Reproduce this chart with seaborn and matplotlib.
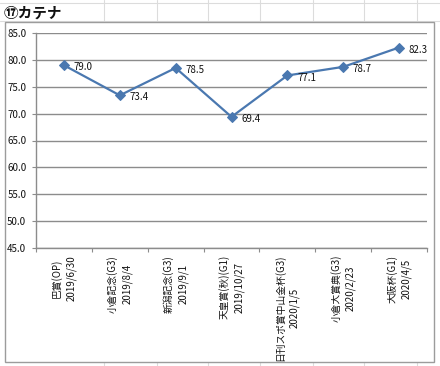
import matplotlib
matplotlib.use("Agg")
import matplotlib.pyplot as plt
import seaborn as sns
import pandas as pd
from matplotlib.patches import Rectangle
from matplotlib.lines import Line2D
from matplotlib.ticker import FixedLocator, NullFormatter

races = ["巴賞(OP)", "小倉記念(G3)", "新潟記念(G3)", "天皇賞(秋)(G1)",
         "日刊スポ賞中山金杯(G3)", "小倉大賞典(G3)", "大阪杯(G1)"]
dates = ["2019/6/30", "2019/8/4", "2019/9/1", "2019/10/27",
         "2020/1/5", "2020/2/23", "2020/4/5"]
scores = [79.0, 73.4, 78.5, 69.4, 77.1, 78.7, 82.3]
title = "⑰カテナ"

sns.set_theme(style="white")
plt.rcParams['font.family'] = ['Noto Sans CJK JP', 'DejaVu Sans']

W, H = 440, 366
fig = plt.figure(figsize=(W / 100, H / 100), dpi=100)
fig.patch.set_facecolor("white")

# spreadsheet background grid
for xv in [104, 157, 208, 260, 313, 364, 417]:
    fig.add_artist(Line2D([xv / W, xv / W], [0, 1], color="#dcdcdc", lw=0.8, zorder=-3))
for yv in [3, 21]:
    fig.add_artist(Line2D([0, 1], [1 - yv / H, 1 - yv / H], color="#dcdcdc", lw=0.8, zorder=-3))

# chart area
fig.add_artist(Rectangle((5 / W, (H - 362) / H), 429 / W, 340 / H,
                         transform=fig.transFigure, facecolor="white",
                         edgecolor="#9c9c9c", lw=1.0, zorder=-1))

fig.text(4 / W, 1 - 12.5 / H, title, ha="left", va="center", fontsize=10.5,
         fontweight="bold", color="#111111")

ax = fig.add_axes([36 / W, (H - 248) / H, (427 - 36) / W, (248 - 33) / H])
ax.set_facecolor("white")

labels = [f"{r}\n{d}" for r, d in zip(races, dates)]
df = pd.DataFrame({"label": labels, "score": scores, "pos": range(len(scores))})

line_color = "#4a78b0"
sns.lineplot(data=df, x="pos", y="score", ax=ax, sort=False, color=line_color,
             lw=1.6, marker="D", markersize=5, markeredgecolor=line_color, zorder=3)

for xi, v in zip(df["pos"], df["score"]):
    ax.annotate(f"{v:.1f}", (xi, v), xytext=(7, -1.5), textcoords="offset points",
                ha="left", va="center", fontsize=7, color="#111111")

ax.set_xlim(-0.5, len(scores) - 0.5)
ax.set_ylim(45, 85)
ax.set_yticks([45, 50, 55, 60, 65, 70, 75, 80, 85])
ax.set_yticklabels([f"{v:.1f}" for v in [45, 50, 55, 60, 65, 70, 75, 80, 85]], fontsize=7, color="#111111")
ax.yaxis.grid(True, color="#8c8c8c", lw=1.0)
ax.xaxis.grid(False)
ax.set_axisbelow(True)

ax.set_xticks(list(df["pos"]))
ax.set_xticklabels(labels, rotation=90, ha="center", va="top", fontsize=7,
                   color="#111111", multialignment="center", linespacing=1.5)
ax.xaxis.set_minor_locator(FixedLocator([i - 0.5 for i in range(len(scores) + 1)]))
ax.xaxis.set_minor_formatter(NullFormatter())
ax.tick_params(axis="x", which="major", length=0, pad=5)
ax.tick_params(axis="x", which="minor", length=3, width=0.8, color="#8c8c8c", direction="out", bottom=True)
ax.tick_params(axis="y", length=3, width=0.8, color="#8c8c8c", direction="out", left=True, pad=4)

for s in ["top", "right"]:
    ax.spines[s].set_visible(False)
for s in ["left", "bottom"]:
    ax.spines[s].set_color("#8c8c8c")
    ax.spines[s].set_linewidth(1.0)

ax.set_xlabel("")
ax.set_ylabel("")
if ax.get_legend():
    ax.get_legend().remove()

fig.savefig("out.png", dpi=100)
